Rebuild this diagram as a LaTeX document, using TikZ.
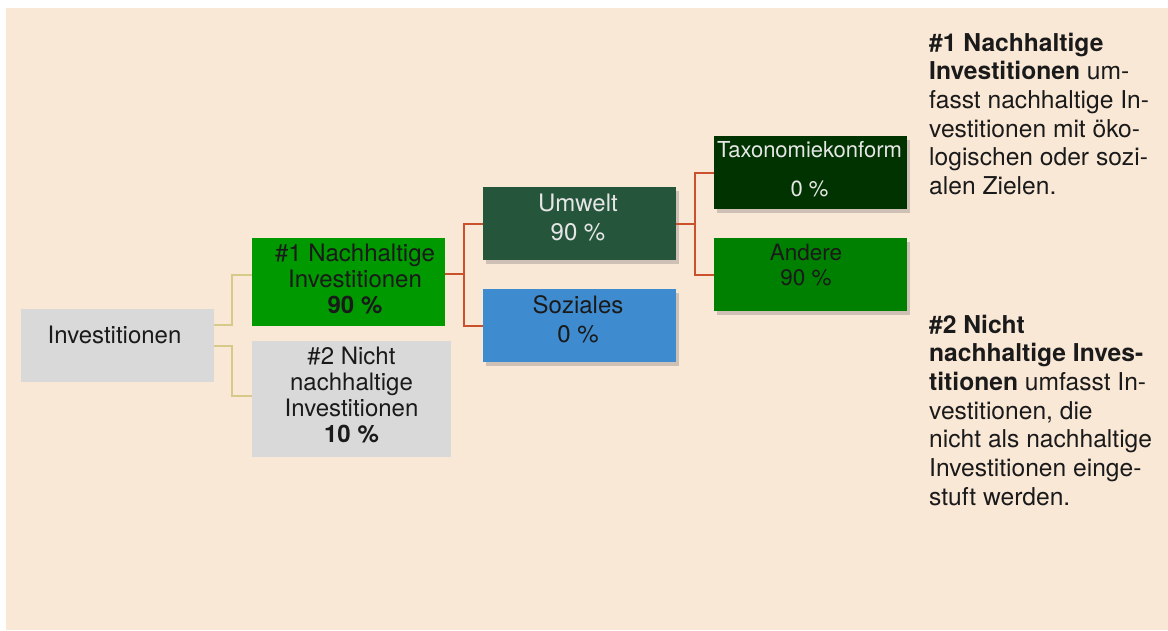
\documentclass[tikz,border=0pt]{standalone}
\usepackage{fontspec}
\setmainfont{TeX Gyre Heros}
\usetikzlibrary{shadows}

\definecolor{bgbeige}{HTML}{FAE8D7}
\definecolor{boxgray}{HTML}{D9D9D9}
\definecolor{boxgreen}{HTML}{009900}
\definecolor{boxumwelt}{HTML}{25553A}
\definecolor{boxsozial}{HTML}{3F8BCF}
\definecolor{boxtaxo}{HTML}{003300}
\definecolor{boxandere}{HTML}{008000}
\definecolor{linetan}{HTML}{D6C98A}
\definecolor{linered}{HTML}{C9512C}
\definecolor{txtlight}{HTML}{E6E6E6}
\definecolor{txtdark}{HTML}{1A1A1A}

\begin{document}
\begin{tikzpicture}[x=1pt,y=-1pt,
    box/.style={rectangle,inner sep=0pt,minimum width=193pt,minimum height=73pt},
    shade/.style={drop shadow={shadow xshift=3pt,shadow yshift=-4pt,
      opacity=0.25,fill=black!70}},
    boxtext/.style={align=center,inner sep=0pt,anchor=base,text=txtdark,
      font=\fontsize{24}{26}\selectfont},
    sidetext/.style={align=left,inner sep=0pt,anchor=north west,text=txtdark,
      font=\fontsize{24.6}{28.7}\selectfont},
    tanline/.style={draw=linetan,line width=2pt},
    redline/.style={draw=linered,line width=2pt}]

    % Background
    \useasboundingbox (0,0) rectangle (1168,630);
    \fill[white] (0,0) rectangle (1168,630);
    \fill[bgbeige] (6,8) rectangle (1168,630);

    % Boxes, level 1 and 2
    \node[box,fill=boxgray] (inv) at (117.5,345.5) {};
    \node[box,fill=boxgreen,minimum height=88pt] (n1) at (348.5,282) {};
    \node[box,fill=boxgray,minimum width=199pt,minimum height=116pt] (n2) at (351.5,399) {};

    % Boxes, level 3 and 4
    \node[box,shade,fill=boxumwelt] (umw) at (579.5,223.5) {};
    \node[box,shade,fill=boxsozial] (soz) at (579.5,325.5) {};
    \node[box,shade,fill=boxtaxo] (tax) at (810.5,172.5) {};
    \node[box,shade,fill=boxandere] (andr) at (810.5,274.5) {};

    % Box texts (placed at the baseline of their last line)
    \node[boxtext] (inv-t) at (114.5,343) {Investitionen};
    \node[boxtext] (n1-t) at (355,313)
      {\#1 Nachhaltige\\Investitionen\\\textbf{90 \%}};
    \node[boxtext] (n2-t) at (351.5,442)
      {\#2 Nicht\\nachhaltige\\Investitionen\\\textbf{10 \%}};
    \node[boxtext,text=txtlight,font=\fontsize{24}{29}\selectfont] (umw-t) at (578,240)
      {Umwelt\\90 \%};
    \node[boxtext,font=\fontsize{24}{29}\selectfont] (soz-t) at (578,342)
      {Soziales\\0 \%};
    \node[boxtext,text=txtlight,font=\fontsize{22}{39}\selectfont] (tax-t) at (809.5,196)
      {Taxonomiekonform\\0 \%};
    \node[boxtext,font=\fontsize{22.5}{25}\selectfont] (andr-t) at (806,285)
      {Andere\\90 \%};

    % Connectors from Investitionen
    \draw[tanline] ([yshift=20.5pt]inv.east) -- ++(18,0) |- ([yshift=7pt]n1.west);
    \draw[tanline] (inv.east) -- ++(18,0) |- ([yshift=3pt]n2.west);

    % Connectors to Umwelt / Soziales
    \coordinate (s1) at (464,274);
    \draw[redline] ([yshift=8pt]n1.east) -- (s1);
    \draw[redline] (umw.west) -| (s1) |- (soz.west);

    % Connectors to Taxonomiekonform / Andere
    \coordinate (s2) at (695,223.5);
    \draw[redline] (umw.east) -- (s2);
    \draw[redline] (tax.west) -| (s2) |- (andr.west);

    % Explanations on the right
    \node[sidetext] (expl1) at (929,32.5)
      {\textbf{\#1 Nachhaltige}\\
       \textbf{Investitionen} um-\\
       fasst nachhaltige In-\\
       vestitionen mit öko-\\
       logischen oder sozi-\\
       alen Zielen.};
    \node[sidetext] (expl2) at (929,314.5)
      {\textbf{\#2 Nicht}\\
       \textbf{nachhaltige Inves-}\\
       \textbf{titionen} umfasst In-\\
       vestitionen, die\\
       nicht als nachhaltige\\
       Investitionen einge-\\
       stuft werden.};

  \end{tikzpicture}
\end{document}
